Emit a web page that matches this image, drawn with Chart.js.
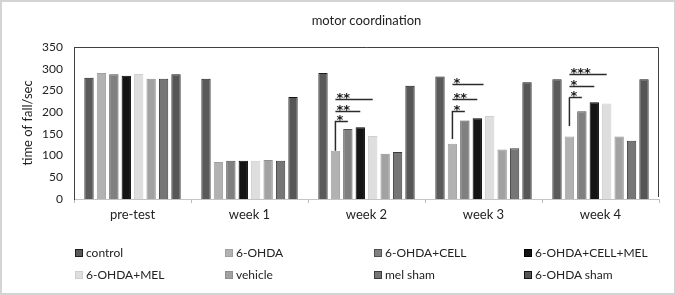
<!DOCTYPE html>
<html>
<head>
<meta charset="utf-8">
<script src="https://cdn.jsdelivr.net/npm/chart.js@4"></script>
<style>
  html, body { margin: 0; padding: 0; background: #fff; }
  #wrap { position: relative; width: 676px; height: 295px; overflow: hidden; font-family: Lato, "Open Sans", sans-serif; }
  #frame { position: absolute; left: 0; top: 0; width: 676px; height: 295px; box-sizing: border-box; border: 2px solid #d4d4d4; pointer-events: none; }
  #title { position: absolute; left: 74px; width: 585px; top: 12px; text-align: center; font-size: 13px; color: #222; }
  .leg { position: absolute; font-size: 12px; color: #222; line-height: 14px; white-space: nowrap; }
  .leg i { display: inline-block; width: 8px; height: 8px; margin-right: 3px; vertical-align: 0px; box-sizing: border-box; border: 1px solid; }
</style>
</head>
<body>
<div id="wrap">
  <canvas id="c" width="676" height="295"></canvas>
  <div id="title">motor coordination</div>
  <div id="legend"></div>
  <div id="frame"></div>
</div>
<script>
// ---- data ----
const categories = ['pre-test', 'week 1', 'week 2', 'week 3', 'week 4'];
const seriesNames = ['control', '6-OHDA', '6-OHDA+CELL', '6-OHDA+CELL+MEL', '6-OHDA+MEL', 'vehicle', 'mel sham', '6-OHDA sham'];
const control  = [279, 277, 290, 282, 276];
const ohda     = [290,  85, 111, 127, 144];
const cell     = [287,  88, 161, 181, 202];
const cellMel  = [284,  88, 165, 186, 223];
const mel      = [288,  88, 145, 191, 220];
const vehicle  = [277,  90, 104, 114, 144];
const melSham  = [277,  88, 108, 117, 134];
const ohdaSham = [287, 235, 261, 269, 276];
const yTicks = [0, 50, 100, 150, 200, 250, 300, 350];

// significance brackets (from 6-OHDA bar to target series)
const sigCategory = [2, 2, 2, 3, 3, 3, 4, 4, 4];
const sigTarget   = [2, 3, 4, 2, 3, 3.5, 2, 3, 4];
const sigLevel    = [180, 203, 230, 203, 230, 264, 234, 261, 287];
const sigLabel    = ['*', '**', '**', '*', '**', '*', '*', '*', '***'];
const sigStemEnd  = [111, 138, 168]; // for weeks 2,3,4
const sigStemCats = [2, 3, 4];

// ---- styles ----
const fills   = ['#5a5a5a', '#b2b2b2', '#808080', '#141414', '#dedede', '#a2a2a2', '#767676', '#565656'];
const borders = ['#1e1e1e', '#a0a0a0', '#505050', '#000000', '#cfcfcf', '#8f8f8f', '#3c3c3c', '#141414'];
const seriesData = [control, ohda, cell, cellMel, mel, vehicle, melSham, ohdaSham];

// legend
const legEl = document.getElementById('legend');
const colX = [75, 225, 374, 524];
const rowY = [246, 268];
seriesNames.forEach((n, i) => {
  const d = document.createElement('div');
  d.className = 'leg';
  d.style.left = colX[i % 4] + 'px';
  d.style.top = rowY[Math.floor(i / 4)] + 'px';
  d.innerHTML = '<i style="background:' + fills[i] + ';border-color:' + borders[i] + '"></i>' + n;
  legEl.appendChild(d);
});

const boxPlugin = {
  id: 'box',
  beforeDatasetsDraw(chart) {
    const { ctx, chartArea: a } = chart;
    ctx.save();
    ctx.strokeStyle = '#404040';
    ctx.lineWidth = 1;
    ctx.beginPath();
    ctx.moveTo(a.left, a.top + 0.5);
    ctx.lineTo(a.right - 0.5, a.top + 0.5);
    ctx.lineTo(a.right - 0.5, a.bottom - 2);
    ctx.stroke();
    ctx.restore();
  }
};

const sigPlugin = {
  id: 'sig',
  afterDatasetsDraw(chart) {
    const { ctx } = chart;
    const y = chart.scales.y;
    const barX = (cat, ds) => {
      const lo = Math.floor(ds), hi = Math.ceil(ds);
      const a = chart.getDatasetMeta(lo).data[cat].x;
      const b = chart.getDatasetMeta(hi).data[cat].x;
      return a + (b - a) * (ds - lo);
    };
    ctx.save();
    ctx.strokeStyle = '#2a2a2a';
    ctx.fillStyle = '#1a1a1a';
    ctx.lineWidth = 1.5;
    ctx.font = 'bold 13px "DejaVu Sans", sans-serif';
    ctx.textAlign = 'left';
    ctx.textBaseline = 'alphabetic';
    for (let i = 0; i < sigCategory.length; i++) {
      const x0 = barX(sigCategory[i], 1);
      const x1 = barX(sigCategory[i], sigTarget[i]);
      const yy = Math.round(y.getPixelForValue(sigLevel[i])) + 0.5;
      ctx.beginPath();
      ctx.moveTo(x0, yy);
      ctx.lineTo(x1, yy);
      ctx.stroke();
      ctx.fillText(sigLabel[i], x0 + 1, yy + 2);
    }
    for (let k = 0; k < sigStemCats.length; k++) {
      const cat = sigStemCats[k];
      const x0 = barX(cat, 1);
      let top = Infinity;
      for (let i = 0; i < sigCategory.length; i++) if (sigCategory[i] === cat) top = Math.min(top, sigLevel[i]);
      ctx.beginPath();
      ctx.moveTo(x0, y.getPixelForValue(top));
      ctx.lineTo(x0, y.getPixelForValue(sigStemEnd[k]));
      ctx.stroke();
    }
    ctx.restore();
  }
};

new Chart(document.getElementById('c'), {
  type: 'bar',
  data: {
    labels: categories,
    datasets: seriesData.map((d, i) => ({
      label: seriesNames[i],
      data: d,
      backgroundColor: fills[i],
      borderColor: borders[i],
      borderWidth: 1,
      categoryPercentage: 0.85,
      barPercentage: 0.75
    }))
  },
  options: {
    responsive: false,
    animation: false,
    events: [],
    layout: { padding: { left: 0, top: 47, right: 17, bottom: 66 } },
    plugins: { legend: { display: false }, title: { display: false }, tooltip: { enabled: false } },
    scales: {
      x: {
        offset: true,
        grid: { display: true, drawOnChartArea: false, offset: true, tickLength: 4, color: '#bdbdbd' },
        border: { display: true, color: '#c4c4c4', width: 1 },
        ticks: { color: '#222', font: { family: 'Lato', size: 13 }, padding: 4, maxRotation: 0 },
        afterFit(s) { s.height = 30; }
      },
      y: {
        min: 0, max: 350,
        afterBuildTicks(s) { s.ticks = yTicks.map(v => ({ value: v })); },
        grid: { display: false, drawTicks: false },
        border: { display: true, color: '#404040', width: 1 },
        ticks: { color: '#222', font: { family: 'Lato', size: 12 }, padding: 11 },
        title: { display: true, text: 'time of fall/sec', color: '#222', font: { family: 'Lato', size: 13 }, padding: { top: 20, bottom: 0 } },
        afterFit(s) { s.width = 74; }
      }
    }
  },
  plugins: [boxPlugin, sigPlugin]
});
</script>
</body>
</html>
